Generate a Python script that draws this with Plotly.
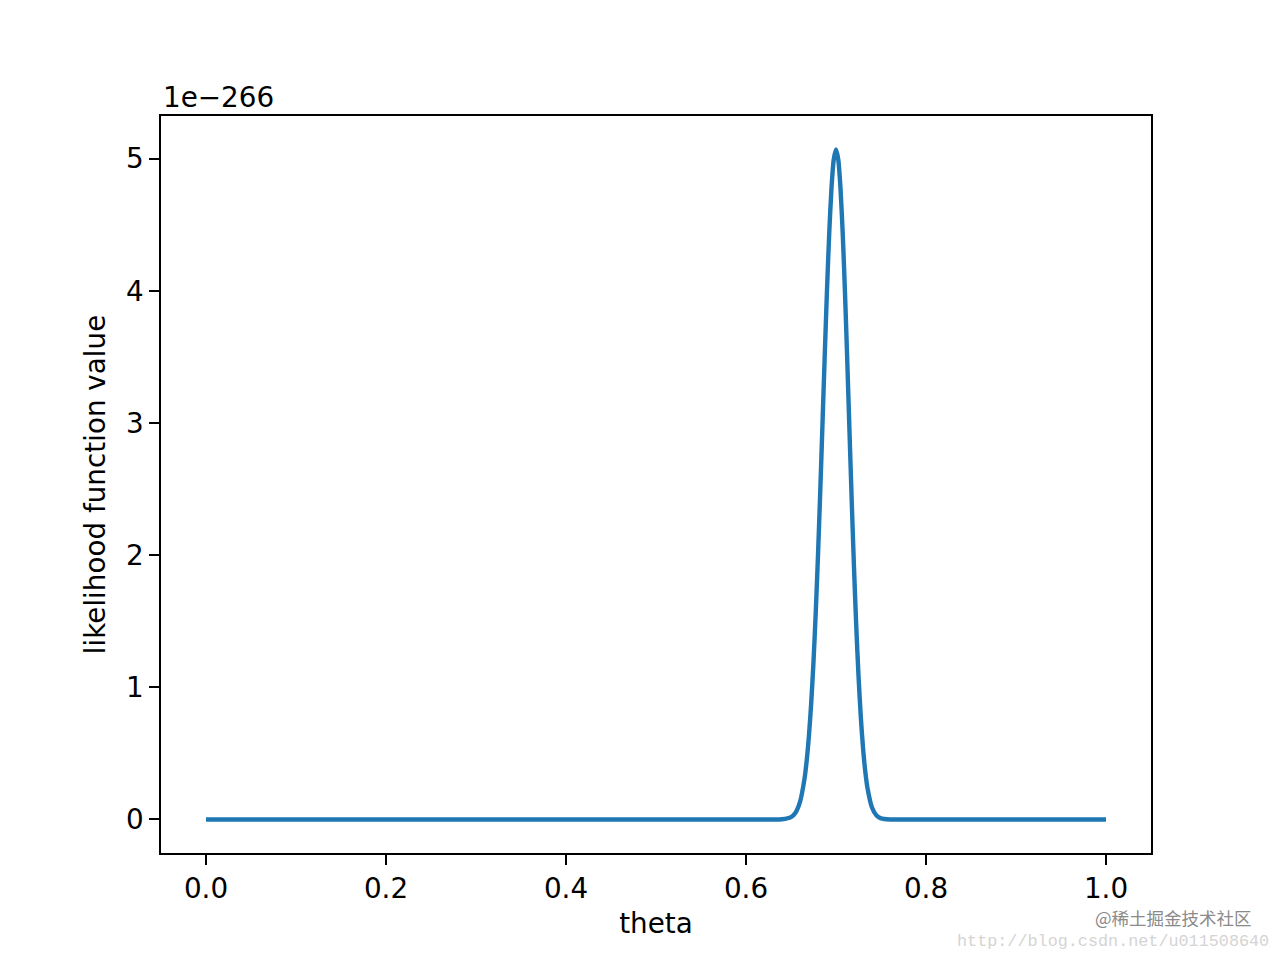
import plotly.graph_objects as go

# theta values and likelihood values (in units of 1e-266)
theta = [0.0, 0.1, 0.2, 0.3, 0.4, 0.5, 0.6, 0.62, 0.63, 0.64, 0.65, 0.655, 0.66,
         0.665, 0.6675, 0.67, 0.6725, 0.675, 0.6775, 0.68, 0.6825, 0.685, 0.6875,
         0.69, 0.6925, 0.695, 0.6975, 0.70, 0.7025, 0.705, 0.7075, 0.71, 0.7125,
         0.715, 0.7175, 0.72, 0.7225, 0.725, 0.7275, 0.73, 0.7325, 0.735, 0.74,
         0.745, 0.75, 0.76, 0.77, 0.8, 0.9, 1.0]
likelihood = [0, 0, 0, 0, 0, 0, 0, 0.0, 0.0001, 0.0016, 0.0181, 0.0516, 0.133,
              0.308, 0.450, 0.640, 0.887, 1.195, 1.568, 2.000, 2.482, 2.996, 3.514,
              4.007, 4.439, 4.778, 4.994, 5.069, 4.994, 4.775, 4.428, 3.983, 3.473,
              2.935, 2.403, 1.906, 1.463, 1.088, 0.782, 0.544, 0.365, 0.237, 0.0902,
              0.0298, 0.0085, 0.0004, 0, 0, 0, 0]

x_ticks = [0.0, 0.2, 0.4, 0.6, 0.8, 1.0]
y_ticks = [0, 1, 2, 3, 4, 5]
offset_label = "1e\u2212266"
watermark_cn = "@稀土掘金技术社区"
watermark_url = "http://blog.csdn.net/u011508640"

FONT = "DejaVu Sans"
FS = 27.8

fig = go.Figure()
fig.add_trace(go.Scatter(x=theta, y=likelihood, mode="lines",
                         line=dict(color="#1f77b4", width=4.4, shape="spline", smoothing=0.7),
                         showlegend=False, hoverinfo="x+y"))

axis_common = dict(showline=True, mirror=True, linecolor="black", linewidth=2.2,
                   ticks="outside", ticklen=9.7, tickwidth=2.2, tickcolor="black",
                   showgrid=False, zeroline=False,
                   tickfont=dict(family=FONT, size=FS, color="black"))

fig.update_layout(
    width=1280, height=960,
    margin=dict(l=153, r=137, t=108, b=115),
    paper_bgcolor="white", plot_bgcolor="white",
    font=dict(family=FONT, size=FS, color="black"),
    xaxis=dict(range=[-0.05, 1.05], tickvals=x_ticks,
               ticktext=[f"{v:.1f}" for v in x_ticks],
               title=dict(text="theta", font=dict(family=FONT, size=FS), standoff=9),
               **axis_common),
    yaxis=dict(range=[-0.2535, 5.3225], tickvals=y_ticks,
               ticktext=[str(v) for v in y_ticks],
               title=dict(text="likelihood function value", font=dict(family=FONT, size=FS), standoff=12),
               **axis_common),
    annotations=[
        dict(text=offset_label, xref="paper", yref="paper", x=0, y=1,
             xanchor="left", yanchor="bottom", showarrow=False,
             font=dict(family=FONT, size=FS, color="black")),
        dict(text=watermark_cn, xref="paper", yref="paper", x=1.1038, y=-0.0880,
             xanchor="right", yanchor="middle", showarrow=False,
             font=dict(family="Noto Sans CJK SC", size=17.5, color="#8a8a8a")),
        dict(text=watermark_url, xref="paper", yref="paper", x=0.8020, y=-0.1200,
             xanchor="left", yanchor="middle", showarrow=False,
             font=dict(family="Liberation Mono", size=16.8, color="#d4d4d4")),
    ],
)

fig.write_html("out.html")
